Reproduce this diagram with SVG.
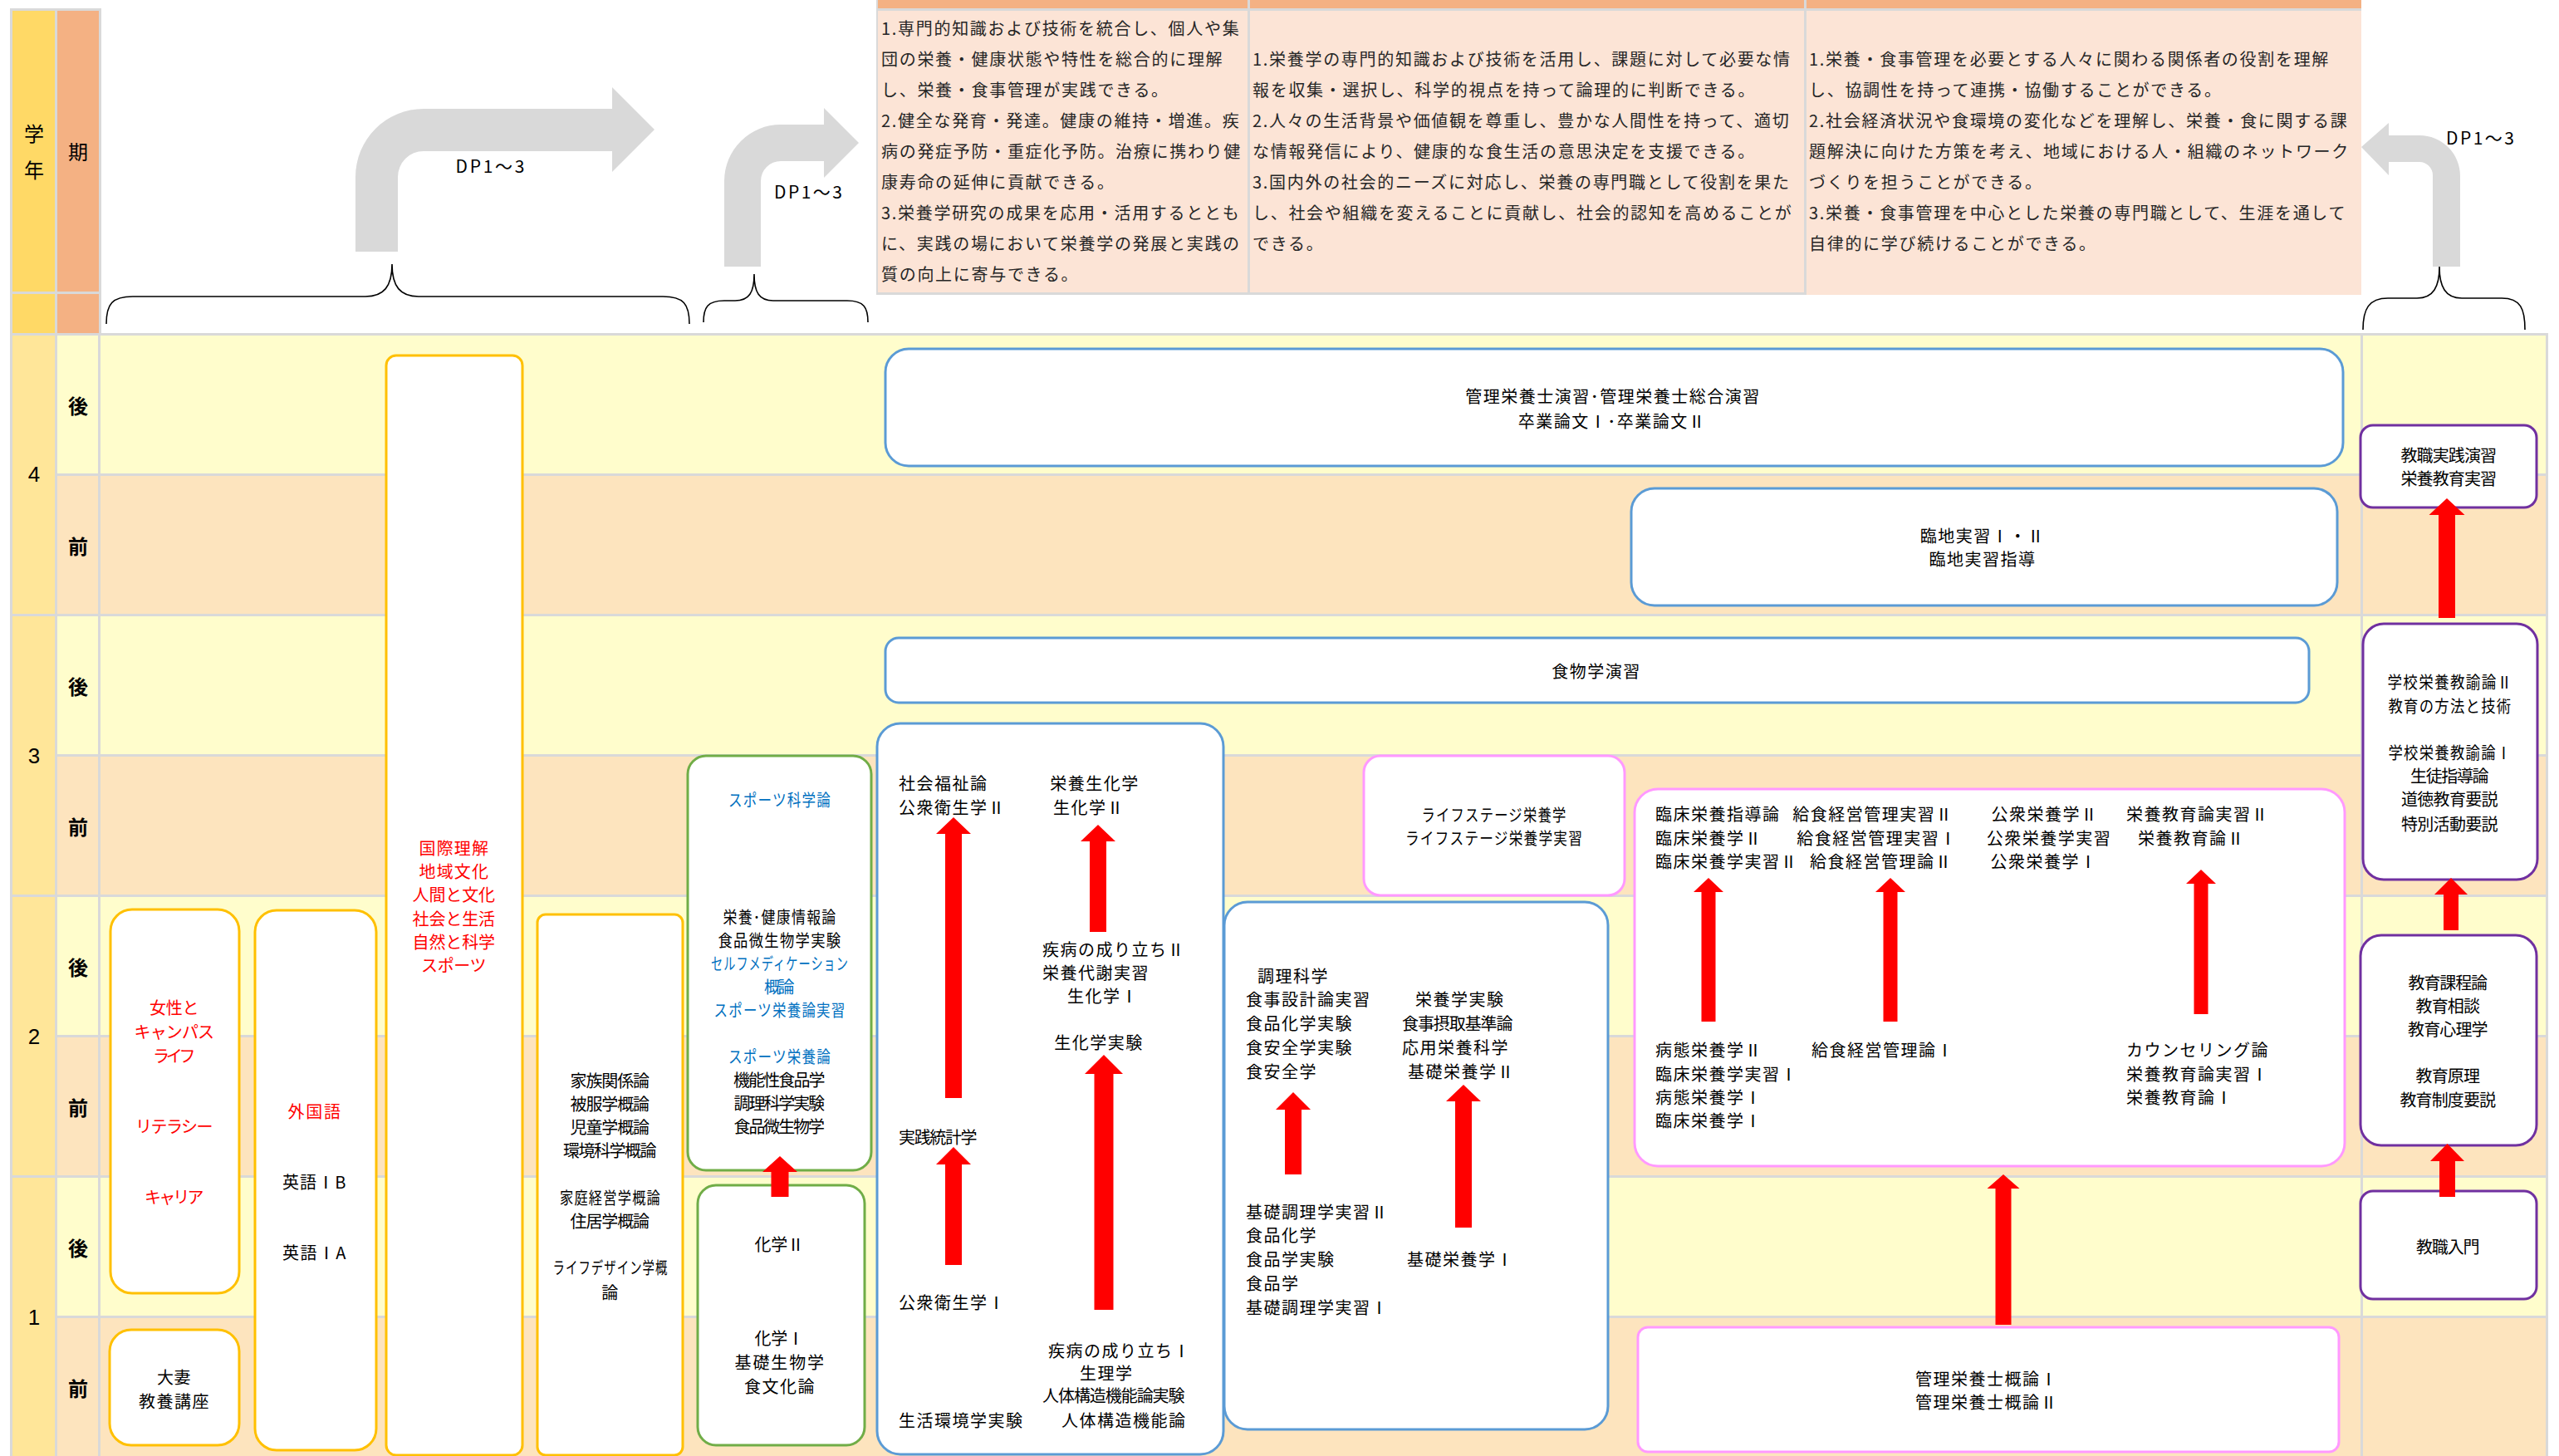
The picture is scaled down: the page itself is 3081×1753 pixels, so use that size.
<svg xmlns="http://www.w3.org/2000/svg" width="3081" height="1753" viewBox="0 0 3081 1753">
<style>
.t{font-family:"Noto Sans CJK JP","Noto Sans CJK SC",sans-serif;font-size:20px;letter-spacing:1.5px;dominant-baseline:central;fill:#000}
.c{text-anchor:middle}
.r{fill:#FF0000}
.bl{fill:#0070C0}
.n{letter-spacing:0}
.dp{font-family:"Noto Sans CJK JP","Noto Sans CJK SC",sans-serif;font-size:20px;letter-spacing:1.7px;dominant-baseline:central;fill:#262626}
.hd{font-family:"Noto Sans CJK JP","Noto Sans CJK SC",sans-serif;font-size:24px;dominant-baseline:central;text-anchor:middle;fill:#000}
.pd{font-family:"Noto Sans CJK JP","Noto Sans CJK SC",sans-serif;font-size:24px;font-weight:bold;dominant-baseline:central;text-anchor:middle;fill:#000}
.yr{font-family:"Liberation Sans",Arial,sans-serif;font-size:26px;dominant-baseline:central;text-anchor:middle;fill:#000}
.lbl{font-family:"Noto Sans CJK JP","Noto Sans CJK SC",sans-serif;font-size:21px;dominant-baseline:central;text-anchor:middle;fill:#000}
.bx{fill:#fff;stroke-width:3}
.by{stroke:#FFC000}
.bb{stroke:#5B9BD5}
.bg{stroke:#70AD47}
.bp{stroke:#FF99FF}
.bv{stroke:#7030A0}
.ra{fill:#FF0000}
.ga{fill:#D9D9D9}
.brace{fill:none;stroke:#000;stroke-width:1.6}
.ro{fill:#FFFDCC}
.rz{fill:#FDE4BE}
</style>

<!-- header left cells -->
<g id="header-left">
<rect x="12" y="10" width="110" height="394" fill="#D9D9D9"/>
<rect x="15" y="13" width="51" height="338" fill="#FFD966"/>
<rect x="15" y="354" width="51" height="47" fill="#FFD966"/>
<rect x="69" y="13" width="50" height="338" fill="#F4B183"/>
<rect x="69" y="354" width="50" height="47" fill="#F4B183"/>
<text class="hd" x="41" y="159">学</text>
<text class="hd" x="41" y="203">年</text>
<text class="hd" x="94" y="181">期</text>
</g>

<!-- DP table -->
<g id="dp-table">
<rect x="1055" y="0" width="1788" height="355" fill="#D9D9D9"/>
<rect x="1057" y="0" width="445" height="10" fill="#F4B183"/>
<rect x="1505" y="0" width="667" height="10" fill="#F4B183"/>
<rect x="2175" y="0" width="668" height="10" fill="#F4B183"/>
<rect x="1057" y="13" width="445" height="339" fill="#FCE4D6"/>
<rect x="1505" y="13" width="667" height="339" fill="#FCE4D6"/>
<rect x="2175" y="13" width="668" height="342" fill="#FCE4D6"/>
<text class="dp" x="1061" y="33.5">1.専門的知識および技術を統合し、個人や集</text>
<text class="dp" x="1061" y="70.5">団の栄養・健康状態や特性を総合的に理解</text>
<text class="dp" x="1061" y="107.5">し、栄養・食事管理が実践できる。</text>
<text class="dp" x="1061" y="144.5">2.健全な発育・発達。健康の維持・増進。疾</text>
<text class="dp" x="1061" y="181.5">病の発症予防・重症化予防。治療に携わり健</text>
<text class="dp" x="1061" y="218.5">康寿命の延伸に貢献できる。</text>
<text class="dp" x="1061" y="255.5">3.栄養学研究の成果を応用・活用するととも</text>
<text class="dp" x="1061" y="292.5">に、実践の場において栄養学の発展と実践の</text>
<text class="dp" x="1061" y="329.5">質の向上に寄与できる。</text>
<text class="dp" x="1508" y="70.5">1.栄養学の専門的知識および技術を活用し、課題に対して必要な情</text>
<text class="dp" x="1508" y="107.5">報を収集・選択し、科学的視点を持って論理的に判断できる。</text>
<text class="dp" x="1508" y="144.5">2.人々の生活背景や価値観を尊重し、豊かな人間性を持って、適切</text>
<text class="dp" x="1508" y="181.5">な情報発信により、健康的な食生活の意思決定を支援できる。</text>
<text class="dp" x="1508" y="218.5">3.国内外の社会的ニーズに対応し、栄養の専門職として役割を果た</text>
<text class="dp" x="1508" y="255.5">し、社会や組織を変えることに貢献し、社会的認知を高めることが</text>
<text class="dp" x="1508" y="292.5">できる。</text>
<text class="dp" x="2178" y="70.5">1.栄養・食事管理を必要とする人々に関わる関係者の役割を理解</text>
<text class="dp" x="2178" y="107.5">し、協調性を持って連携・協働することができる。</text>
<text class="dp" x="2178" y="144.5">2.社会経済状況や食環境の変化などを理解し、栄養・食に関する課</text>
<text class="dp" x="2178" y="181.5">題解決に向けた方策を考え、地域における人・組織のネットワーク</text>
<text class="dp" x="2178" y="218.5">づくりを担うことができる。</text>
<text class="dp" x="2178" y="255.5">3.栄養・食事管理を中心とした栄養の専門職として、生涯を通して</text>
<text class="dp" x="2178" y="292.5">自律的に学び続けることができる。</text>
</g>

<!-- DP arrows and braces -->
<g id="dp-arrows">
<path class="ga" d="M428,303 L428,213 A82,82 0 0 1 510,131 L737,131 L737,105 L788,156 L737,207 L737,182 L510,182 A31,31 0 0 0 479,213 L479,303 Z"/>
<path class="ga" d="M872,321 L872,218 A68,68 0 0 1 940,150 L992,150 L992,130 L1034,172 L992,214 L992,194 L940,194 A24,24 0 0 0 916,218 L916,321 Z"/>
<path class="ga" d="M2962,321 L2962,212 A49,49 0 0 0 2913,163 L2876,163 L2876,148 L2843,177 L2876,211 L2876,195 L2913,195 A16,16 0 0 1 2929,211 L2929,321 Z"/>
<text class="lbl" x="590" y="199" textLength="83">DP1～3</text>
<text class="lbl" x="973" y="230" textLength="82">DP1～3</text>
<text class="lbl" x="2986" y="165" textLength="82">DP1～3</text>
<path class="brace" d="M128,390 C128,366 135,357 160,357 L440,357 C462,357 472,345 472,318 C472,345 482,357 504,357 L798,357 C823,357 830,366 830,390"/>
<path class="brace" d="M847,388 C847,370 852,362 872,362 L885,362 C902,362 908,352 908,330 C908,352 914,362 931,362 L1020,362 C1040,362 1045,370 1045,388"/>
<path class="brace" d="M2845,397 C2845,372 2852,359 2875,359 L2910,359 C2930,359 2937,345 2937,321 C2937,345 2944,359 2964,359 L3012,359 C3035,359 3040,372 3040,397"/>
</g>

<!-- body grid -->
<g id="grid">
<rect x="12" y="401" width="3056" height="1352" fill="#D9D9D9"/>
<rect x="15" y="404" width="51" height="335" fill="#FFE699"/>
<rect x="15" y="742" width="51" height="335" fill="#FFE699"/>
<rect x="15" y="1080" width="51" height="335" fill="#FFE699"/>
<rect x="15" y="1418" width="51" height="335" fill="#FFE699"/>
<rect class="ro" x="69" y="404" width="49" height="166"/>
<rect class="rz" x="69" y="573" width="49" height="166"/>
<rect class="ro" x="69" y="742" width="49" height="166"/>
<rect class="rz" x="69" y="911" width="49" height="166"/>
<rect class="ro" x="69" y="1080" width="49" height="166"/>
<rect class="rz" x="69" y="1249" width="49" height="166"/>
<rect class="ro" x="69" y="1418" width="49" height="166"/>
<rect class="rz" x="69" y="1587" width="49" height="166"/>
<rect class="ro" x="121" y="404" width="2721" height="166"/>
<rect class="rz" x="121" y="573" width="2721" height="166"/>
<rect class="ro" x="121" y="742" width="2721" height="166"/>
<rect class="rz" x="121" y="911" width="2721" height="166"/>
<rect class="ro" x="121" y="1080" width="2721" height="166"/>
<rect class="rz" x="121" y="1249" width="2721" height="166"/>
<rect class="ro" x="121" y="1418" width="2721" height="166"/>
<rect class="rz" x="121" y="1587" width="2721" height="166"/>
<rect class="ro" x="2845" y="404" width="220" height="166"/>
<rect class="rz" x="2845" y="573" width="220" height="166"/>
<rect class="ro" x="2845" y="742" width="220" height="166"/>
<rect class="rz" x="2845" y="911" width="220" height="166"/>
<rect class="ro" x="2845" y="1080" width="220" height="166"/>
<rect class="rz" x="2845" y="1249" width="220" height="166"/>
<rect class="ro" x="2845" y="1418" width="220" height="166"/>
<rect class="rz" x="2845" y="1587" width="220" height="166"/>
<text class="yr" x="41" y="571">4</text>
<text class="yr" x="41" y="910">3</text>
<text class="yr" x="41" y="1248">2</text>
<text class="yr" x="41" y="1586">1</text>
<text class="pd" x="94" y="487">後</text>
<text class="pd" x="94" y="656">前</text>
<text class="pd" x="94" y="825">後</text>
<text class="pd" x="94" y="994">前</text>
<text class="pd" x="94" y="1163">後</text>
<text class="pd" x="94" y="1332">前</text>
<text class="pd" x="94" y="1501">後</text>
<text class="pd" x="94" y="1670">前</text>
</g>

<!-- general education -->
<g id="n-kokusai">
<rect class="bx by" x="465" y="428" width="164" height="1324" rx="12"/>
<text class="t c r" x="547" y="1020" textLength="85">国際理解</text>
<text class="t c r" x="547" y="1048" textLength="85">地域文化</text>
<text class="t c r" x="547" y="1076" textLength="101">人間と文化</text>
<text class="t c r" x="547" y="1105" textLength="101">社会と生活</text>
<text class="t c r" x="547" y="1133" textLength="101">自然と科学</text>
<text class="t c r" x="547" y="1161" textLength="80">スポーツ</text>
</g>
<g id="n-josei">
<rect class="bx by" x="133" y="1095" width="155" height="462" rx="26"/>
<text class="t c r" x="210.5" y="1212" textLength="61">女性と</text>
<text class="t c r" x="210.5" y="1241.5" textLength="98">キャンパス</text>
<text class="t c r" x="210.5" y="1270" textLength="53">ライフ</text>
<text class="t c r" x="210.5" y="1355" textLength="95">リテラシー</text>
<text class="t c r" x="210.5" y="1440" textLength="73">キャリア</text>
</g>
<g id="n-otsuma">
<rect class="bx by" x="132" y="1601" width="156" height="139" rx="26"/>
<text class="t c" x="210" y="1657" textLength="42">大妻</text>
<text class="t c" x="210" y="1686" textLength="86">教養講座</text>
</g>
<g id="n-gaikokugo">
<rect class="bx by" x="307" y="1096" width="146" height="650" rx="26"/>
<text class="t c r" x="379" y="1337" textLength="65">外国語</text>
<text class="t c" x="379" y="1422" textLength="78">英語ⅠB</text>
<text class="t c" x="379" y="1507" textLength="78">英語ⅠA</text>
</g>
<g id="n-kazoku">
<rect class="bx by" x="647" y="1101" width="175" height="651" rx="10"/>
<text class="t c" x="735" y="1300" textLength="97">家族関係論</text>
<text class="t c" x="735" y="1328" textLength="97">被服学概論</text>
<text class="t c" x="735" y="1356" textLength="97">児童学概論</text>
<text class="t c" x="735" y="1384" textLength="114">環境科学概論</text>
<text class="t c" x="735" y="1441.5" textLength="122" lengthAdjust="spacingAndGlyphs">家庭経営学概論</text>
<text class="t c" x="735" y="1469" textLength="97">住居学概論</text>
<text class="t c" x="735" y="1525" textLength="139" lengthAdjust="spacingAndGlyphs">ライフデザイン学概</text>
<text class="t c" x="735" y="1555">論</text>
</g>
<g id="n-sports">
<rect class="bx bg" x="828" y="910" width="221" height="499" rx="22"/>
<text class="t c bl" x="939" y="962" textLength="124" lengthAdjust="spacingAndGlyphs">スポーツ科学論</text>
<text class="t c" x="939" y="1103" textLength="137" lengthAdjust="spacingAndGlyphs">栄養･健康情報論</text>
<text class="t c" x="939" y="1131" textLength="149" lengthAdjust="spacingAndGlyphs">食品微生物学実験</text>
<text class="t c bl" x="939" y="1159" textLength="166" lengthAdjust="spacingAndGlyphs">セルフメディケーション</text>
<text class="t c bl" x="939" y="1187" textLength="38">概論</text>
<text class="t c bl" x="939" y="1215" textLength="159" lengthAdjust="spacingAndGlyphs">スポーツ栄養論実習</text>
<text class="t c bl" x="939" y="1271" textLength="124" lengthAdjust="spacingAndGlyphs">スポーツ栄養論</text>
<text class="t c" x="939" y="1299" textLength="112">機能性食品学</text>
<text class="t c" x="939" y="1327" textLength="111">調理科学実験</text>
<text class="t c" x="939" y="1355" textLength="111">食品微生物学</text>
</g>
<g id="n-kagaku">
<rect class="bx bg" x="840" y="1427" width="201" height="313" rx="22"/>
<text class="t c" x="939" y="1497" textLength="61">化学Ⅱ</text>
<text class="t c" x="939" y="1610.5" textLength="61">化学Ⅰ</text>
<text class="t c" x="939" y="1639" textLength="109">基礎生物学</text>
<text class="t c" x="939" y="1668" textLength="86">食文化論</text>
</g>

<!-- specialized -->
<g id="n-shakai">
<rect class="bx bb" x="1056" y="871" width="417" height="880" rx="28"/>
<text class="t" x="1082" y="942">社会福祉論</text>
<text class="t" x="1082" y="971">公衆衛生学Ⅱ</text>
<text class="t c" x="1318" y="942">栄養生化学</text>
<text class="t c" x="1311" y="971">生化学Ⅱ</text>
<text class="t" x="1255" y="1142">疾病の成り立ちⅡ</text>
<text class="t" x="1255" y="1170">栄養代謝実習</text>
<text class="t" x="1285" y="1198.5">生化学Ⅰ</text>
<text class="t c" x="1323" y="1254">生化学実験</text>
<text class="t" x="1082" y="1368" textLength="96">実践統計学</text>
<text class="t" x="1082" y="1567">公衆衛生学Ⅰ</text>
<text class="t" x="1262" y="1625">疾病の成り立ちⅠ</text>
<text class="t" x="1300" y="1652">生理学</text>
<text class="t" x="1255" y="1679.5" textLength="173">人体構造機能論実験</text>
<text class="t" x="1278" y="1709.5">人体構造機能論</text>
<text class="t" x="1082" y="1709.5">生活環境学実験</text>
</g>
<g id="n-chouri">
<rect class="bx bb" x="1474" y="1086" width="462" height="635" rx="28"/>
<text class="t" x="1514" y="1174">調理科学</text>
<text class="t" x="1500" y="1202.5">食事設計論実習</text>
<text class="t" x="1500" y="1231">食品化学実験</text>
<text class="t" x="1500" y="1260">食安全学実験</text>
<text class="t" x="1500" y="1289">食安全学</text>
<text class="t" x="1704" y="1202.5">栄養学実験</text>
<text class="t" x="1688" y="1231" textLength="135">食事摂取基準論</text>
<text class="t" x="1688" y="1260">応用栄養科学</text>
<text class="t" x="1695" y="1289">基礎栄養学Ⅱ</text>
<text class="t" x="1500" y="1458">基礎調理学実習Ⅱ</text>
<text class="t" x="1500" y="1486.5">食品化学</text>
<text class="t" x="1500" y="1515">食品学実験</text>
<text class="t" x="1500" y="1544">食品学</text>
<text class="t" x="1500" y="1573">基礎調理学実習Ⅰ</text>
<text class="t" x="1694" y="1515">基礎栄養学Ⅰ</text>
</g>
<g id="n-lifestage">
<rect class="bx bp" x="1642" y="910" width="314" height="168" rx="20"/>
<text class="t c" x="1799" y="980" textLength="175" lengthAdjust="spacingAndGlyphs">ライフステージ栄養学</text>
<text class="t c" x="1799" y="1008" textLength="214" lengthAdjust="spacingAndGlyphs">ライフステージ栄養学実習</text>
</g>
<g id="n-enshu">
<rect class="bx bb" x="1066" y="420" width="1755" height="141" rx="28"/>
<text class="t c" x="1942" y="476">管理栄養士演習･管理栄養士総合演習</text>
<text class="t c" x="1941" y="506">卒業論文Ⅰ･卒業論文Ⅱ</text>
</g>
<g id="n-rinchi">
<rect class="bx bb" x="1964" y="588" width="850" height="141" rx="28"/>
<text class="t c" x="2387" y="644">臨地実習Ⅰ・Ⅱ</text>
<text class="t c" x="2387" y="672">臨地実習指導</text>
</g>
<g id="n-shokumotsu">
<rect class="bx bb" x="1066" y="768" width="1714" height="78" rx="16"/>
<text class="t c" x="1922" y="807">食物学演習</text>
</g>
<g id="n-rinsho">
<rect class="bx bp" x="1968" y="950" width="855" height="454" rx="28"/>
<text class="t" x="1993" y="979.5">臨床栄養指導論</text>
<text class="t" x="1993" y="1008">臨床栄養学Ⅱ</text>
<text class="t" x="1993" y="1036">臨床栄養学実習Ⅱ</text>
<text class="t c" x="2255" y="979.5">給食経営管理実習Ⅱ</text>
<text class="t c" x="2260" y="1008">給食経営管理実習Ⅰ</text>
<text class="t c" x="2265" y="1036">給食経営管理論Ⅱ</text>
<text class="t c" x="2462" y="979.5">公衆栄養学Ⅱ</text>
<text class="t c" x="2467" y="1008">公衆栄養学実習</text>
<text class="t c" x="2461" y="1036">公衆栄養学Ⅰ</text>
<text class="t" x="2560" y="979.5">栄養教育論実習Ⅱ</text>
<text class="t" x="2574" y="1008">栄養教育論Ⅱ</text>
<text class="t" x="1993" y="1263">病態栄養学Ⅱ</text>
<text class="t" x="1993" y="1292">臨床栄養学実習Ⅰ</text>
<text class="t" x="1993" y="1320">病態栄養学Ⅰ</text>
<text class="t" x="1993" y="1348">臨床栄養学Ⅰ</text>
<text class="t" x="2181" y="1263">給食経営管理論Ⅰ</text>
<text class="t" x="2560" y="1263">カウンセリング論</text>
<text class="t" x="2560" y="1292">栄養教育論実習Ⅰ</text>
<text class="t" x="2560" y="1320">栄養教育論Ⅰ</text>
</g>
<g id="n-gairon">
<rect class="bx bp" x="1972" y="1598" width="844" height="150" rx="12"/>
<text class="t c" x="2392" y="1659.5">管理栄養士概論Ⅰ</text>
<text class="t c" x="2392" y="1687">管理栄養士概論Ⅱ</text>
</g>

<!-- teacher course -->
<g id="n-kyoshoku-jissen">
<rect class="bx bv" x="2842" y="512" width="212" height="99" rx="15"/>
<text class="t c" x="2949" y="547" textLength="117">教職実践演習</text>
<text class="t c" x="2949" y="575" textLength="117">栄養教育実習</text>
</g>
<g id="n-gakko">
<rect class="bx bv" x="2845" y="751" width="210" height="308" rx="25"/>
<text class="t c" x="2950" y="820" textLength="151" lengthAdjust="spacingAndGlyphs">学校栄養教諭論Ⅱ</text>
<text class="t c" x="2950" y="849.5" textLength="149" lengthAdjust="spacingAndGlyphs">教育の方法と技術</text>
<text class="t c" x="2950" y="905" textLength="149" lengthAdjust="spacingAndGlyphs">学校栄養教諭論Ⅰ</text>
<text class="t c" x="2950" y="933.5" textLength="96">生徒指導論</text>
<text class="t c" x="2950" y="961.5" textLength="118">道徳教育要説</text>
<text class="t c" x="2950" y="991.5" textLength="118">特別活動要説</text>
</g>
<g id="n-kyoiku">
<rect class="bx bv" x="2842" y="1126" width="212" height="253" rx="25"/>
<text class="t c" x="2948" y="1182.5" textLength="97">教育課程論</text>
<text class="t c" x="2948" y="1210" textLength="79">教育相談</text>
<text class="t c" x="2948" y="1238" textLength="98">教育心理学</text>
<text class="t c" x="2948" y="1294" textLength="79">教育原理</text>
<text class="t c" x="2948" y="1323" textLength="117">教育制度要説</text>
</g>
<g id="n-nyumon">
<rect class="bx bv" x="2842" y="1434" width="212" height="130" rx="15"/>
<text class="t c" x="2948" y="1500" textLength="78">教職入門</text>
</g>

<!-- connectors -->
<g id="connectors">
<polygon class="ra" points="1148,984 1169,1004 1158,1004 1158,1322 1138,1322 1138,1004 1127,1004"/>
<polygon class="ra" points="1322,993 1343,1013 1332,1013 1332,1122 1312,1122 1312,1013 1301,1013"/>
<polygon class="ra" points="1329,1270 1352,1293 1340.5,1293 1340.5,1577 1317.5,1577 1317.5,1293 1306,1293"/>
<polygon class="ra" points="1148,1381 1169,1402 1158,1402 1158,1523 1138,1523 1138,1402 1127,1402"/>
<polygon class="ra" points="1557,1315 1578,1336 1567,1336 1567,1414 1547,1414 1547,1336 1536,1336"/>
<polygon class="ra" points="1762,1306 1783,1326 1772,1326 1772,1478 1752,1478 1752,1326 1741,1326"/>
<polygon class="ra" points="2057,1057 2075,1074 2065.5,1074 2065.5,1230 2048.5,1230 2048.5,1074 2039,1074"/>
<polygon class="ra" points="2276,1057 2294,1074 2284.5,1074 2284.5,1230 2267.5,1230 2267.5,1074 2258,1074"/>
<polygon class="ra" points="2650,1047 2668,1064 2658.5,1064 2658.5,1221 2641.5,1221 2641.5,1064 2632,1064"/>
<polygon class="ra" points="2412,1414 2431.5,1431 2421.5,1431 2421.5,1595 2402.5,1595 2402.5,1431 2392.5,1431"/>
<polygon class="ra" points="939,1392 960,1411 949.5,1411 949.5,1441 928.5,1441 928.5,1411 918,1411"/>
<polygon class="ra" points="2946,600 2967.5,620 2956,620 2956,744 2936,744 2936,620 2924.5,620"/>
<polygon class="ra" points="2951,1057 2971,1077 2960,1077 2960,1120 2942,1120 2942,1077 2931,1077"/>
<polygon class="ra" points="2946.5,1377 2967,1398 2956,1398 2956,1441 2937,1441 2937,1398 2926,1398"/>
</g>
</svg>
